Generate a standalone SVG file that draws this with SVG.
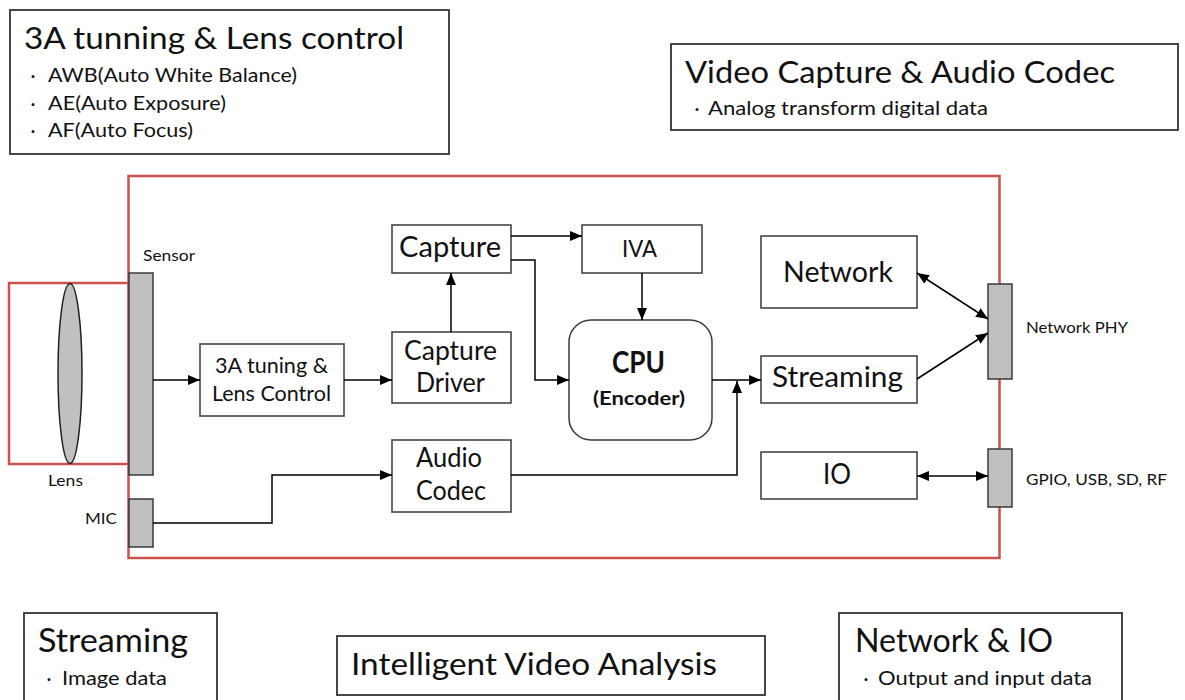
<svg xmlns="http://www.w3.org/2000/svg" width="1185" height="700" viewBox="0 0 1185 700">
<style>
.box{fill:#fff;stroke:#3a3a3a;stroke-width:1.5}
.lbl{fill:#fff;stroke:#333;stroke-width:1.8}
.gray{fill:#c0c0c0;stroke:#3a3a3a;stroke-width:1.5}
.red{fill:none;stroke:#c9524f;stroke-width:2.5}
.conn{fill:none;stroke:#000;stroke-width:1.5}
text{font-family:Lato,"Noto Sans CJK JP",sans-serif;fill:#111}
.dot{text-anchor:middle}
.b{font-weight:bold}
</style>
<defs>
<marker id="ah" markerUnits="userSpaceOnUse" markerWidth="12" markerHeight="10" refX="12" refY="5" orient="auto-start-reverse">
<path d="M0,0 L12,5 L0,10 z" fill="#000"/>
</marker>
</defs>
<rect width="1185" height="700" fill="#fff"/>

<g id="label-3a">
<rect class="lbl" x="10" y="10" width="439" height="144"/>
<text x="24" y="49" font-size="31" textLength="380" lengthAdjust="spacingAndGlyphs">3A tunning &amp; Lens control</text>
<text class="dot" x="33" y="82" font-size="19">·</text>
<text x="48" y="82" font-size="19" textLength="249" lengthAdjust="spacingAndGlyphs">AWB(Auto White Balance)</text>
<text class="dot" x="33" y="110" font-size="19">·</text>
<text x="48" y="110" font-size="19" textLength="178" lengthAdjust="spacingAndGlyphs">AE(Auto Exposure)</text>
<text class="dot" x="33" y="137" font-size="19">·</text>
<text x="48" y="137" font-size="19" textLength="145" lengthAdjust="spacingAndGlyphs">AF(Auto Focus)</text>
</g>

<g id="label-video">
<rect class="lbl" x="671" y="44" width="507" height="86"/>
<text x="685" y="83" font-size="31" textLength="430" lengthAdjust="spacingAndGlyphs">Video Capture &amp; Audio Codec</text>
<text class="dot" x="697" y="115" font-size="19">·</text>
<text x="708" y="115" font-size="19" textLength="280" lengthAdjust="spacingAndGlyphs">Analog transform digital data</text>
</g>

<g id="camera-frame">
<rect class="red" x="128.5" y="176" width="871" height="382"/>
<rect class="red" x="9" y="283" width="120" height="181"/>
</g>

<g id="lens">
<ellipse cx="70" cy="373.5" rx="12" ry="90" fill="#c0c0c0" stroke="#222" stroke-width="1.5"/>
<text x="48" y="486" font-size="15" textLength="35" lengthAdjust="spacingAndGlyphs">Lens</text>
</g>

<g id="sensor">
<rect class="gray" x="129" y="273" width="24" height="202"/>
<text x="143" y="261" font-size="15" textLength="52" lengthAdjust="spacingAndGlyphs">Sensor</text>
</g>

<g id="mic">
<rect class="gray" x="129" y="499" width="24" height="48"/>
<text x="85" y="524" font-size="15" textLength="32" lengthAdjust="spacingAndGlyphs">MIC</text>
</g>

<g id="tuning">
<rect class="box" x="200" y="344" width="144" height="72"/>
<text x="215" y="373" font-size="21" textLength="113" lengthAdjust="spacingAndGlyphs">3A tuning &amp;</text>
<text x="212" y="401" font-size="21" textLength="119" lengthAdjust="spacingAndGlyphs">Lens Control</text>
</g>

<g id="capture-driver">
<rect class="box" x="392" y="332" width="119" height="71"/>
<text x="404" y="360" font-size="26" textLength="93" lengthAdjust="spacingAndGlyphs">Capture</text>
<text x="416" y="392" font-size="26" textLength="69" lengthAdjust="spacingAndGlyphs">Driver</text>
</g>

<g id="capture">
<rect class="box" x="392" y="225" width="119" height="48"/>
<text x="399" y="257" font-size="29" textLength="102" lengthAdjust="spacingAndGlyphs">Capture</text>
</g>

<g id="iva">
<rect class="box" x="582" y="225" width="120" height="48"/>
<text x="622" y="257" font-size="23" textLength="35" lengthAdjust="spacingAndGlyphs">IVA</text>
</g>

<g id="cpu">
<rect class="box" x="569" y="320" width="143" height="120" rx="22" ry="22"/>
<text class="b" x="612" y="373" font-size="30" textLength="53" lengthAdjust="spacingAndGlyphs">CPU</text>
<text class="b" x="593" y="405" font-size="19" textLength="92" lengthAdjust="spacingAndGlyphs">(Encoder)</text>
</g>

<g id="audio-codec">
<rect class="box" x="392" y="440" width="119" height="72"/>
<text x="416" y="467" font-size="26" textLength="66" lengthAdjust="spacingAndGlyphs">Audio</text>
<text x="416" y="500" font-size="26" textLength="70" lengthAdjust="spacingAndGlyphs">Codec</text>
</g>

<g id="network">
<rect class="box" x="761" y="236" width="156" height="72"/>
<text x="783" y="282" font-size="28" textLength="110" lengthAdjust="spacingAndGlyphs">Network</text>
</g>

<g id="streaming">
<rect class="box" x="761" y="356" width="156" height="47"/>
<text x="772" y="387" font-size="29" textLength="131" lengthAdjust="spacingAndGlyphs">Streaming</text>
</g>

<g id="io">
<rect class="box" x="761" y="452" width="156" height="47"/>
<text x="823" y="484" font-size="28" textLength="28" lengthAdjust="spacingAndGlyphs">IO</text>
</g>

<g id="network-phy">
<rect class="gray" x="988" y="284" width="24" height="95"/>
<text x="1026" y="333" font-size="15" textLength="102" lengthAdjust="spacingAndGlyphs">Network PHY</text>
</g>

<g id="gpio">
<rect class="gray" x="988" y="449" width="24" height="58"/>
<text x="1026" y="485" font-size="15" textLength="141" lengthAdjust="spacingAndGlyphs">GPIO, USB, SD, RF</text>
</g>

<g id="connectors">
<path class="conn" d="M153,380 H200" marker-end="url(#ah)"/>
<path class="conn" d="M344,380 H392" marker-end="url(#ah)"/>
<path class="conn" d="M451,332 V273" marker-end="url(#ah)"/>
<path class="conn" d="M511,236 H582" marker-end="url(#ah)"/>
<path class="conn" d="M511,260 H535 V380 H569" marker-end="url(#ah)"/>
<path class="conn" d="M642,273 V320" marker-end="url(#ah)"/>
<path class="conn" d="M712,380 H761" marker-end="url(#ah)"/>
<path class="conn" d="M511,475 H737 V381" marker-end="url(#ah)"/>
<path class="conn" d="M153,523 H272 V475 H392" marker-end="url(#ah)"/>
<path class="conn" d="M917,273 L988,319" marker-start="url(#ah)" marker-end="url(#ah)"/>
<path class="conn" d="M917,379 L988,333" marker-end="url(#ah)"/>
<path class="conn" d="M917,476 H988" marker-start="url(#ah)" marker-end="url(#ah)"/>
</g>

<g id="label-streaming">
<rect class="lbl" x="24" y="613" width="193" height="100"/>
<text x="38" y="652" font-size="32" textLength="150" lengthAdjust="spacingAndGlyphs">Streaming</text>
<text class="dot" x="49" y="685" font-size="19">·</text>
<text x="62" y="685" font-size="20" textLength="105" lengthAdjust="spacingAndGlyphs">Image data</text>
</g>

<g id="label-iva">
<rect class="lbl" x="337" y="636" width="428" height="59"/>
<text x="351" y="675" font-size="31" textLength="366" lengthAdjust="spacingAndGlyphs">Intelligent Video Analysis</text>
</g>

<g id="label-network-io">
<rect class="lbl" x="839" y="613" width="283" height="100"/>
<text x="855" y="652" font-size="32" textLength="198" lengthAdjust="spacingAndGlyphs">Network &amp; IO</text>
<text class="dot" x="866" y="685" font-size="19">·</text>
<text x="878" y="685" font-size="20" textLength="214" lengthAdjust="spacingAndGlyphs">Output and input data</text>
</g>
</svg>
